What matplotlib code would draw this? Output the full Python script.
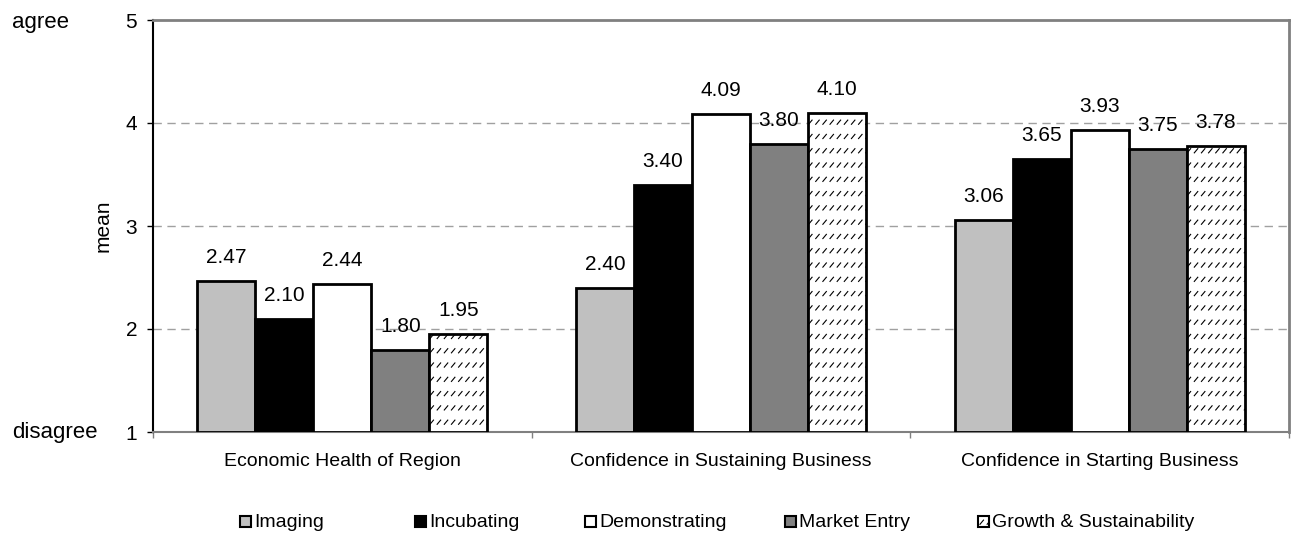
import numpy as np
import matplotlib.pyplot as plt
from matplotlib import hatch as mhatch
from matplotlib.path import Path
from matplotlib.patches import Rectangle

plt.rcParams["font.family"] = ["Liberation Sans", "DejaVu Sans"]
plt.rcParams["hatch.color"] = "#666666"
plt.rcParams["hatch.linewidth"] = 0.8


# Excel style hatch: rows of short diagonal dashes
class DashHatch(mhatch.HatchPatternBase):
    def __init__(self, hatch, density):
        self.nx, self.ny = 14, 7
        self.num_vertices = self.nx * self.ny * 2 if "/" in hatch else 0

    def set_vertices_and_codes(self, vertices, codes):
        k = 0
        for j in range(self.ny):
            for i in range(self.nx):
                x0 = (i + 0.2) / self.nx
                y0 = (j + 0.3) / self.ny
                vertices[k] = (x0, y0)
                vertices[k + 1] = (x0 + 0.035, y0 + 0.042)
                codes[k] = Path.MOVETO
                codes[k + 1] = Path.LINETO
                k += 2


mhatch._hatch_types = [DashHatch]

# Data
categories = ["Economic Health of Region",
              "Confidence in Sustaining Business",
              "Confidence in Starting Business"]
series = ["Imaging", "Incubating", "Demonstrating", "Market Entry",
          "Growth & Sustainability"]
imaging = [2.47, 2.40, 3.06]
incubating = [2.10, 3.40, 3.65]
demonstrating = [2.44, 4.09, 3.93]
market_entry = [1.80, 3.80, 3.75]
growth = [1.95, 4.10, 3.78]
values = [imaging, incubating, demonstrating, market_entry, growth]

face_colors = ["#c0c0c0", "#000000", "#ffffff", "#808080", "#ffffff"]
hatches = [None, None, None, None, "/"]

W, H = 1291, 539
fig = plt.figure(figsize=(W / 100, H / 100), dpi=100)
ax = fig.add_axes([153 / W, 1 - 432 / H, (1289 - 153) / W, (432 - 20) / H])

x = np.arange(len(categories))
width = 0.153

for i, (name, vals) in enumerate(zip(series, values)):
    pos = x + (i - 2) * width
    ax.bar(pos, np.array(vals) - 1, width, bottom=1, color=face_colors[i],
           edgecolor="black", linewidth=2, hatch=hatches[i], zorder=3,
           label=name)
    for p, v in zip(pos, vals):
        ax.annotate(f"{v:.2f}", (p, v), xytext=(0, 13), textcoords="offset points",
                    ha="center", va="baseline", fontsize=15, zorder=4)

ax.set_xlim(-0.5, 2.5)
ax.set_ylim(1, 5)
ax.set_yticks([1, 2, 3, 4, 5])
ax.tick_params(axis="y", labelsize=15, length=4.5, width=1, pad=7)

# group boundary ticks, category names placed below
ax.set_xticks([-0.5, 0.5, 1.5, 2.5])
ax.set_xticklabels([])
ax.tick_params(axis="x", length=4.5, width=1, color="#808080")
for xi, c in zip(x, categories):
    ax.annotate(c, (xi, 0), xycoords=("data", "axes fraction"),
                xytext=(0, -34 * 0.72), textcoords="offset points",
                ha="center", va="baseline", fontsize=14, annotation_clip=False)

for y in [2, 3, 4]:
    ax.axhline(y, color="#a0a0a0", linestyle=(0, (6, 4)), linewidth=1, zorder=1)

ax.spines["left"].set_color("black")
ax.spines["left"].set_linewidth(1.5)
for s in ["top", "right", "bottom"]:
    ax.spines[s].set_color("#808080")
    ax.spines[s].set_linewidth(2)
ax.spines["bottom"].set_linewidth(1.5)

ax.set_ylabel("mean", fontsize=15)
ax.yaxis.set_label_coords(-(153 - 113) / (1289 - 153), 0.5)
fig.text(12 / W, 1 - 28 / H, "agree", fontsize=16, ha="left", va="baseline")
fig.text(12 / W, 1 - 438 / H, "disagree", fontsize=16, ha="left", va="baseline")

# legend, laid out like the Excel legend row
legend_x = [240, 415, 585, 785, 978]
for i, lx in enumerate(legend_x):
    fig.patches.append(Rectangle((lx / W, 1 - 527 / H), 11 / W, 11 / H,
                                 transform=fig.transFigure, facecolor=face_colors[i],
                                 edgecolor="black", linewidth=1.5, hatch=hatches[i]))
    fig.text((lx + 14) / W, 1 - 527 / H, series[i], fontsize=14,
             ha="left", va="baseline")

fig.savefig("out.png", dpi=100)
